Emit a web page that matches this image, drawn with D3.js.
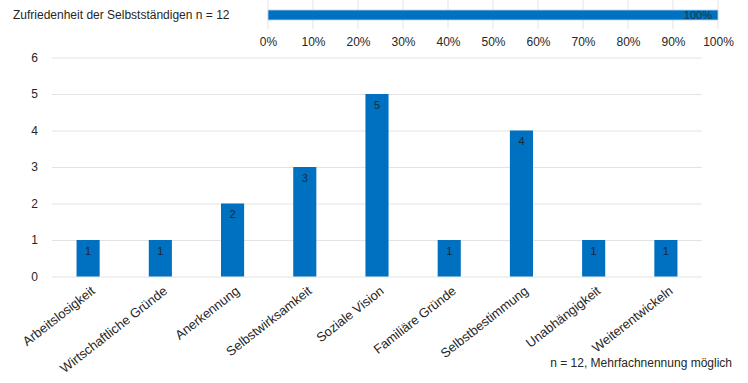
<!DOCTYPE html>
<html>
<head>
<meta charset="utf-8">
<script src="https://cdn.jsdelivr.net/npm/d3@7"></script>
<style>
	body { margin: 0; background: #fff; }
	svg text { font-family: "Liberation Sans", Arial, sans-serif; fill: #262626; }
</style>
</head>
<body>
<div id="chart"></div>
<script>

	// data
	const topLabel = "Zufriedenheit der Selbstständigen n = 12";
	const topValue = [100];
	const pctTicks = [0, 10, 20, 30, 40, 50, 60, 70, 80, 90, 100];

	const categories = [
		"Arbeitslosigkeit",
		"Wirtschaftliche Gründe",
		"Anerkennung",
		"Selbstwirksamkeit",
		"Soziale Vision",
		"Familiäre Gründe",
		"Selbstbestimmung",
		"Unabhängigkeit",
		"Weiterentwickeln"
	];
	const counts = [1, 1, 2, 3, 5, 1, 4, 1, 1];
	const yTicks = [0, 1, 2, 3, 4, 5, 6];
	const footnote = "n = 12, Mehrfachnennung möglich";

	// set up
	const w = 748;
	const h = 383;
	const blue = "#0070c0";
	const grid = "#e3e3e3";

	const svg = d3.select("#chart")
		.append("svg")
		.attr("width", w)
		.attr("height", h);

	// top: stacked percent bar
	const sp = d3.scaleLinear()
		.domain([0, 100])
		.range([268, 718]);

	const pctChart = svg.append("g");

	pctChart.selectAll(".vgrid")
		.data(pctTicks)
		.enter()
		.append("line")
		.attr("class", "vgrid")
		.attr("x1", d => sp(d))
		.attr("x2", d => sp(d))
		.attr("y1", 0)
		.attr("y2", 29)
		.attr("stroke", grid);

	pctChart.selectAll(".pbar")
		.data(topValue)
		.enter()
		.append("rect")
		.attr("class", "pbar")
		.attr("x", sp(0))
		.attr("y", 10)
		.attr("width", d => sp(d) - sp(0))
		.attr("height", 10)
		.attr("fill", blue)
		.attr("stroke", "#bcd6ee")
		.attr("stroke-width", 0.8);

	pctChart.selectAll(".plabel")
		.data(topValue)
		.enter()
		.append("text")
		.attr("class", "plabel")
		.attr("x", d => sp(d) - 6)
		.attr("y", 15)
		.attr("dy", "0.35em")
		.attr("text-anchor", "end")
		.attr("font-size", 11)
		.style("fill", "#1a3550")
		.text(d => d + "%");

	pctChart.append("text")
		.attr("x", 13)
		.attr("y", 15)
		.attr("dy", "0.35em")
		.attr("font-size", 12)
		.text(topLabel);

	const pAxis = d3.axisBottom(sp)
		.tickValues(pctTicks)
		.tickFormat(d => d + "%")
		.tickSize(0)
		.tickPadding(0);

	pctChart.append("g")
		.attr("transform", "translate(0,37)")
		.call(pAxis)
		.call(g => g.select(".domain").remove())
		.call(g => g.selectAll("text")
			.attr("font-size", 12)
			.attr("font-family", null)
			.attr("dy", "0.71em"));

	// bottom: column chart
	const x = d3.scaleBand()
		.domain(categories)
		.range([52, 702])
		.paddingInner(0.68)
		.paddingOuter(0.34);

	const y = d3.scaleLinear()
		.domain([0, 6])
		.range([276.5, 57.5]);

	const plot = svg.append("g");

	const yAxis = d3.axisLeft(y)
		.tickValues(yTicks)
		.tickSize(-650)
		.tickPadding(14)
		.tickFormat(d3.format("d"));

	plot.append("g")
		.attr("transform", "translate(52,0)")
		.call(yAxis)
		.call(g => g.select(".domain").remove())
		.call(g => g.selectAll("line").attr("stroke", grid))
		.call(g => g.selectAll("text")
			.attr("font-size", 12)
			.attr("font-family", null));

	plot.selectAll(".bar")
		.data(counts)
		.enter()
		.append("rect")
		.attr("class", "bar")
		.attr("x", (d, i) => x(categories[i]))
		.attr("y", d => y(d))
		.attr("width", x.bandwidth())
		.attr("height", d => y(0) - y(d))
		.attr("fill", blue);

	plot.selectAll(".vlabel")
		.data(counts)
		.enter()
		.append("text")
		.attr("class", "vlabel")
		.attr("x", (d, i) => x(categories[i]) + x.bandwidth() / 2)
		.attr("y", d => y(d) + 11)
		.attr("dy", "0.35em")
		.attr("text-anchor", "middle")
		.attr("font-size", 11)
		.style("fill", "#1a2a3a")
		.text(d => d);

	plot.selectAll(".xlabel")
		.data(categories)
		.enter()
		.append("text")
		.attr("class", "xlabel")
		.attr("transform", d => `translate(${x(d) + x.bandwidth() / 2 + 5},${289}) rotate(-38)`)
		.attr("text-anchor", "end")
		.attr("dy", "0.35em")
		.attr("font-size", 13)
		.text(d => d);

	svg.append("text")
		.attr("x", 732)
		.attr("y", 363)
		.attr("dy", "0.35em")
		.attr("text-anchor", "end")
		.attr("font-size", 12)
		.text(footnote);

</script>
</body>
</html>
